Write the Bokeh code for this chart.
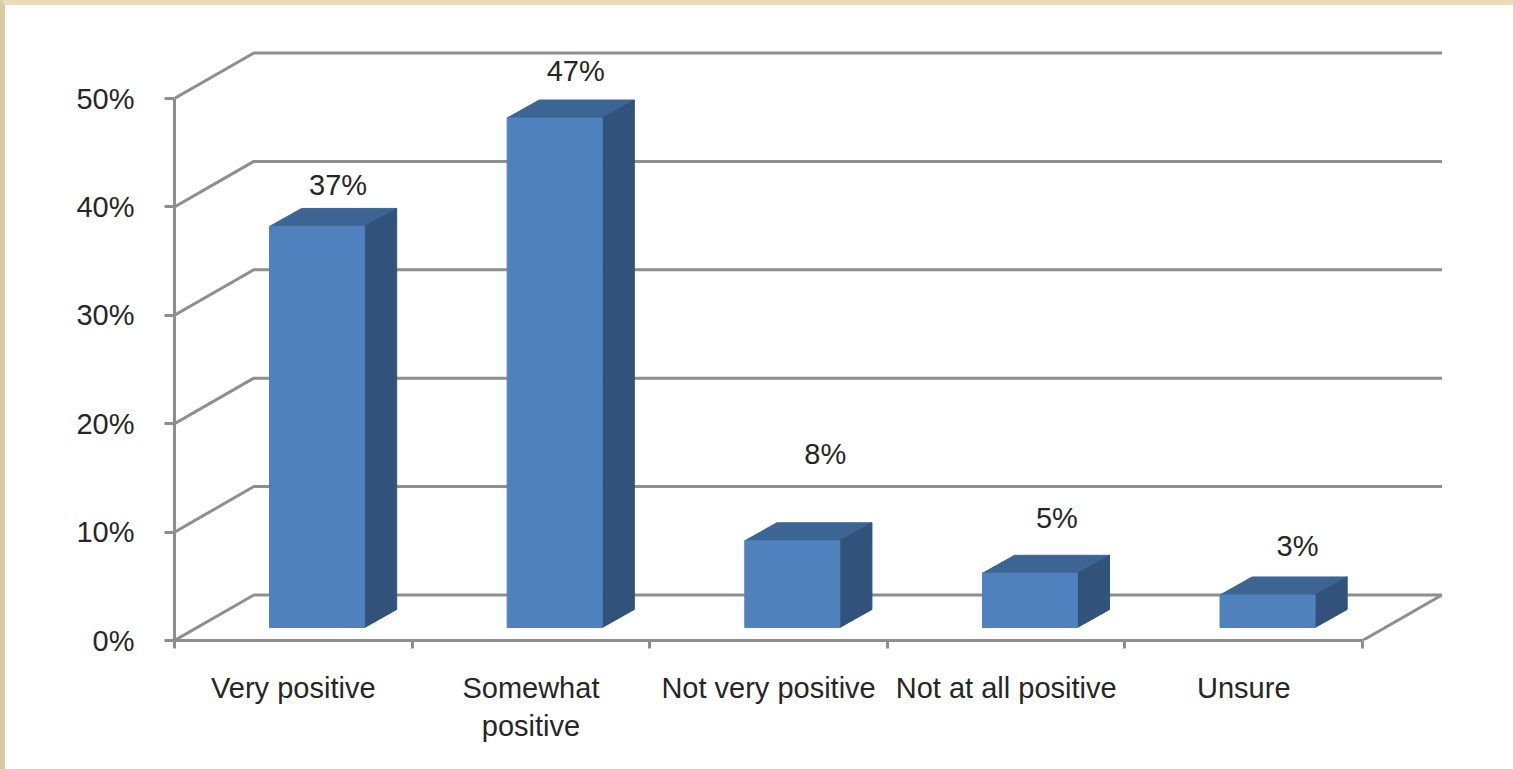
import numpy as np
from bokeh.embed import file_html
from bokeh.resources import INLINE
from bokeh.models import ColumnDataSource, FixedTicker, Range1d
from bokeh.plotting import figure
from bokeh.core.properties import value

categories = ["Very positive", "Somewhat\npositive", "Not very positive", "Not at all positive", "Unsure"]
values = [37, 47, 8, 5, 3]
y_ticks = [0, 10, 20, 30, 40, 50]
y_labels = ["0%", "10%", "20%", "30%", "40%", "50%"]

# Pixel offsets of the data labels relative to the top of the front face of each bar
label_dx = [21, 21, 33, 27, 30]
label_dy = [41, 47, 87, 55, 49]

GREY = "#8e8e8e"
TEXT = "#262626"
FRONT = "#4f81bd"
TOP = "#3c6594"
SIDE = "#30527b"
FONT = "Liberation Sans"
SIZE = "29px"

# Pseudo-3D geometry, in data units
WALL_DX, WALL_DY = 0.334, 4.2
BAR_W = 0.40
BAR_SHIFT = 0.10
BAR_BASE = 1.2
BAR_DX, BAR_DY = 0.135, 1.66

n = len(categories)
p = figure(
    width=1513, height=769, output_backend="svg", toolbar_location=None,
    x_range=Range1d(0, 5.635), y_range=Range1d(0, 58.58),
    min_border_left=169, min_border_right=5, min_border_top=0, min_border_bottom=134,
    outline_line_color=None, background_fill_color="white", border_fill_color="white",
)
p.styles = {"position": "absolute", "left": "0", "top": "0",
            "border-left": "5px solid #d9cb9f", "border-top": "5px solid #e8dcb9"}
p.grid.visible = False

# Wall and floor gridlines
xs, ys = [], []
for v in y_ticks:
    xs.append([0, WALL_DX, n + WALL_DX])
    ys.append([v, v + WALL_DY, v + WALL_DY])
xs.append([n, n + WALL_DX])
ys.append([0, WALL_DY])
p.multi_line(xs, ys, line_color=GREY, line_width=3)

# Bars
vals = np.array(values, dtype=float)
cats = np.arange(n)
left = cats + 0.5 + BAR_SHIFT - BAR_W / 2
right = left + BAR_W
top = BAR_BASE + vals
base = np.full(n, BAR_BASE)

p.patches(
    [[l, l + BAR_DX, r + BAR_DX, r] for l, r in zip(left, right)],
    [[t, t + BAR_DY, t + BAR_DY, t] for t in top],
    fill_color=TOP, line_color=TOP, line_width=1,
)
p.patches(
    [[r, r + BAR_DX, r + BAR_DX, r] for r in right],
    [[b, b + BAR_DY, t + BAR_DY, t] for b, t in zip(base, top)],
    fill_color=SIDE, line_color=SIDE, line_width=1,
)
p.quad(left=left, right=right, bottom=base, top=top,
       fill_color=FRONT, line_color=FRONT, line_width=1)

# Data labels
src = ColumnDataSource(dict(
    x=left + BAR_W / 2, y=top,
    dx=label_dx, dy=[-d for d in label_dy],
    t=[f"{v}%" for v in values],
))
p.text("x", "y", text="t", source=src, x_offset="dx", y_offset="dy",
       text_align="center", text_baseline="middle",
       text_font=value(FONT), text_font_size=value(SIZE), text_color=TEXT)

# Axes
ya = p.yaxis[0]
ya.ticker = FixedTicker(ticks=y_ticks)
ya.major_label_overrides = dict(zip(y_ticks, y_labels))
ya.bounds = (0, 50)
ya.axis_line_color = GREY
ya.axis_line_width = 3
ya.major_tick_line_color = GREY
ya.major_tick_line_width = 3
ya.major_tick_in = 0
ya.major_tick_out = 10
ya.minor_tick_line_color = None
ya.major_label_standoff = 30
ya.major_label_text_font = FONT
ya.major_label_text_font_size = SIZE
ya.major_label_text_color = TEXT

xa = p.xaxis[0]
centres = [i + 0.5 for i in range(n)]
xa.ticker = FixedTicker(ticks=centres, minor_ticks=list(range(n + 1)))
xa.major_label_overrides = dict(zip(centres, categories))
xa.bounds = (0, n)
xa.axis_line_color = GREY
xa.axis_line_width = 3
xa.major_tick_line_color = None
xa.major_tick_in = 0
xa.major_tick_out = 0
xa.minor_tick_line_color = GREY
xa.minor_tick_line_width = 3
xa.minor_tick_in = 0
xa.minor_tick_out = 8
xa.major_label_standoff = 23
xa.major_label_text_font = FONT
xa.major_label_text_font_size = SIZE
xa.major_label_text_color = TEXT

open("out.html", "w").write(file_html(p, INLINE))
